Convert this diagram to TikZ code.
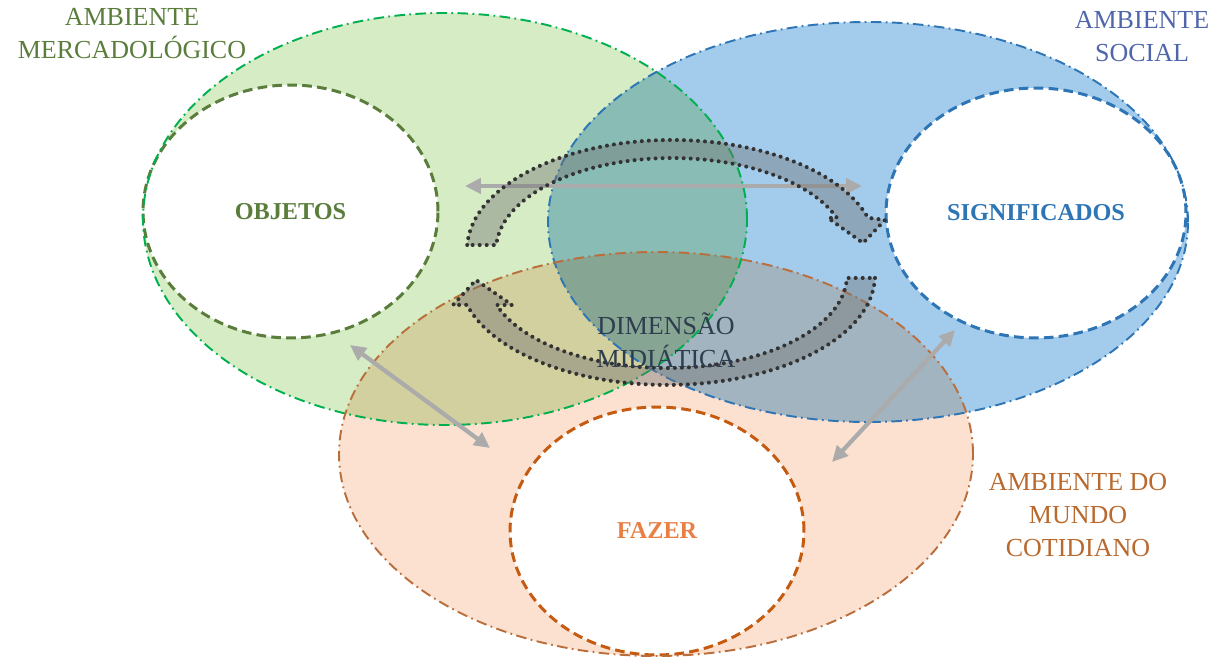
\documentclass[tikz,border=0pt]{standalone}
\usepackage{fontspec}
\setmainfont{Liberation Serif}
\usetikzlibrary{shapes.geometric,arrows.meta}
\definecolor{mercgreen}{RGB}{0,176,80}
\definecolor{mercfill}{RGB}{213,236,196}
\definecolor{merctext}{RGB}{90,125,60}
\definecolor{socblue}{RGB}{46,117,182}
\definecolor{socfill}{RGB}{163,204,236}
\definecolor{soctext}{RGB}{80,102,170}
\definecolor{cotbrown}{RGB}{185,110,60}
\definecolor{cotdash}{RGB}{197,90,17}
\definecolor{cotfill}{RGB}{252,225,208}
\definecolor{cottext}{RGB}{185,105,45}
\definecolor{fazertext}{RGB}{232,128,70}
\definecolor{midtext}{RGB}{47,62,78}

\begin{document}
\begin{tikzpicture}[x=0.02cm,y=0.02cm,
  outer/.style={line width=1.1pt,dash pattern=on 6pt off 2.5pt on 1pt off 2.5pt},
  inner/.style={ellipse,fill=white,line width=1.7pt,dash pattern=on 5.5pt off 3pt,inner sep=0pt,font=\fontsize{13.8}{16}\selectfont\bfseries},
  title/.style={align=center,font=\fontsize{14.8}{18.7}\selectfont},
  link/.style={{Triangle[length=9pt,width=8.5pt]}-{Triangle[length=9pt,width=8.5pt]},line width=2.4pt,draw=black!33},
  turn/.style={fill=black!55,fill opacity=0.42,draw=black!80,line width=2.3pt,line cap=round,dash pattern=on 0pt off 4pt}]
\useasboundingbox (0,0) rectangle (1222,658);

% the three ambientes
\begin{scope}[blend mode=multiply]
  \fill[mercfill] (445,439) ellipse [x radius=302, y radius=206];
  \fill[socfill] (868,436) ellipse [x radius=320, y radius=200];
  \fill[cotfill] (656,204) ellipse [x radius=317, y radius=202];
\end{scope}

\node[inner,draw=merctext,text=merctext,minimum width=5.9cm,minimum height=5.06cm] (objetos) at (290.5,446.5) {OBJETOS};
\node[inner,draw=socblue,text=socblue,minimum width=6cm,minimum height=5cm] (significados) at (1036,445) {SIGNIFICADOS};
\node[inner,draw=cotdash,text=fazertext,minimum width=5.88cm,minimum height=4.96cm] (fazer) at (657,127) {FAZER};

\draw[outer,mercgreen] (445,439) ellipse [x radius=302, y radius=206];
\draw[outer,socblue] (868,436) ellipse [x radius=320, y radius=200];
\draw[outer,cotbrown] (656,204) ellipse [x radius=317, y radius=202];

\coordinate (h1) at (465,472);
\coordinate (h2) at (862,472);
\coordinate (l1) at (350,313);
\coordinate (l2) at (490,210);
\coordinate (r1) at (955,328);
\coordinate (r2) at (832,196);
\draw[link] (h1) -- (h2);
\draw[link] (l1) -- (l2);
\draw[link] (r1) -- (r2);

\draw[turn] (467.2,413) arc[start angle=177.4, end angle=17, x radius=205, y radius=110]
  -- (885,438) -- (863,415) -- (828,440) -- (837,440)
  arc[start angle=20.4, end angle=176.9, x radius=176, y radius=92] -- cycle;
\draw[turn] (875,380) arc[start angle=-1.6, end angle=-164.2, x radius=208, y radius=110]
  -- (453,353) -- (476,378) -- (512,353) -- (496.6,353)
  arc[start angle=-161.2, end angle=-1.8, x radius=180, y radius=93] -- cycle;

\node[title,text=merctext] (mercado) at (132,624.5) {AMBIENTE\\MERCADOLÓGICO};
\node[title,text=soctext] (social) at (1142,621.5) {AMBIENTE\\SOCIAL};
\node[title,text=cottext] (cotidiano) at (1078,143) {AMBIENTE DO\\MUNDO\\COTIDIANO};
\node[title,text=midtext] (midia) at (666,318) {DIMENSÃO\\MIDIÁTICA};
\end{tikzpicture}
\end{document}
